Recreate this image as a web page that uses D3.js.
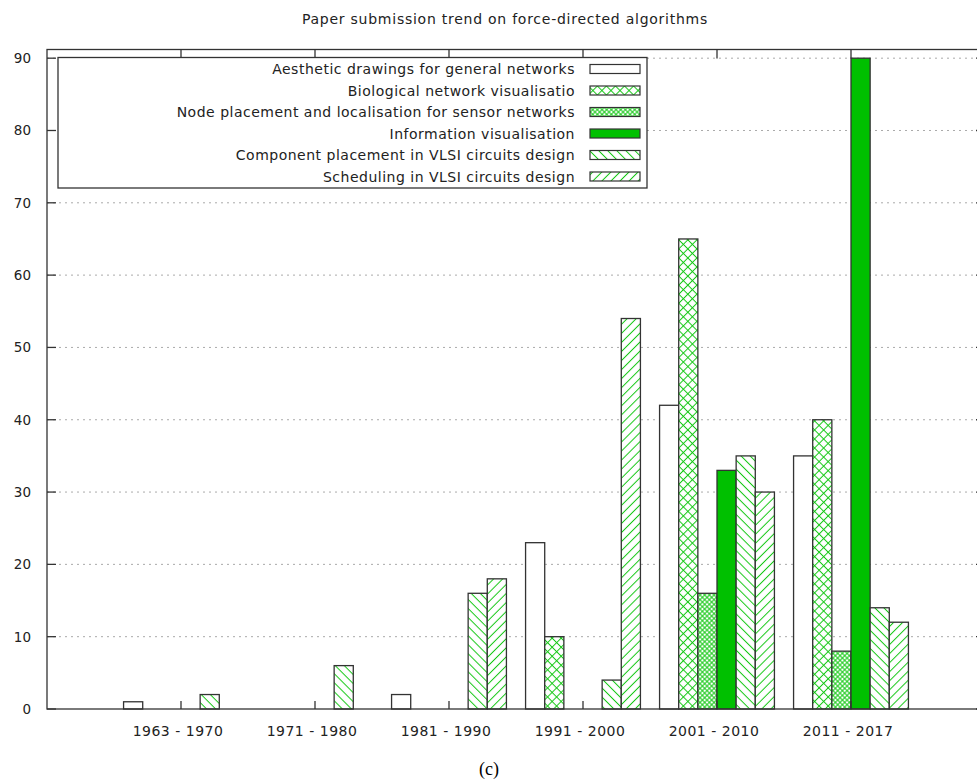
<!DOCTYPE html>
<html>
<head>
<meta charset="utf-8">
<script src="https://cdn.jsdelivr.net/npm/d3@7"></script>
<style>
  body { margin: 0; background: #fff; }
  text { font-family: "DejaVu Sans", sans-serif; fill: #222; }
</style>
</head>
<body>
<div id="draw_area"></div>
<script>
// periods on the x axis
var periods = ["1963 - 1970", "1971 - 1980", "1981 - 1990", "1991 - 2000", "2001 - 2010", "2011 - 2017"];

// one array per series, same order as periods
var aesthetic   = [1, 0, 2, 23, 42, 35];
var biological  = [0, 0, 0, 10, 65, 40];
var node_place  = [0, 0, 0, 0, 16, 8];
var info_vis    = [0, 0, 0, 0, 33, 90];
var component   = [2, 6, 16, 4, 35, 14];
var scheduling  = [0, 0, 18, 54, 30, 12];

var series_names = [
   "Aesthetic drawings for general networks",
   "Biological network visualisatio",
   "Node placement and localisation for sensor networks",
   "Information visualisation",
   "Component placement in VLSI circuits design",
   "Scheduling in VLSI circuits design"
];
var series_values = [aesthetic, biological, node_place, info_vis, component, scheduling];
var series_fill = ["#fff", "url(#pat_cross)", "url(#pat_dense)", "#00c000", "url(#pat_back)", "url(#pat_fwd)"];

var y_ticks = [0, 10, 20, 30, 40, 50, 60, 70, 80, 90];

var width = 977, height = 784;
var plot_left = 47, plot_right = 985, plot_top = 49.5, plot_bottom = 709;

var svg = d3.select("div#draw_area").append("svg")
   .attr("width", width).attr("height", height);

// hatch patterns (gnuplot style): vertical / horizontal strokes, rotated
var defs = svg.append("defs");
function add_pattern(id, size, angle, cross) {
   var p = defs.append("pattern").attr("id", id)
      .attr("patternUnits", "userSpaceOnUse")
      .attr("width", size).attr("height", size)
      .attr("patternTransform", "rotate(" + angle + ")");
   p.append("rect").attr("width", size).attr("height", size).attr("fill", "#fff");
   p.append("line").attr("x1", size / 2).attr("y1", 0).attr("x2", size / 2).attr("y2", size)
      .attr("stroke", "#14c814").attr("stroke-width", 1);
   if (cross) {
      p.append("line").attr("x1", 0).attr("y1", size / 2).attr("x2", size).attr("y2", size / 2)
         .attr("stroke", "#14c814").attr("stroke-width", 1);
   }
}
add_pattern("pat_back", 6.4, -45, false);
add_pattern("pat_fwd", 6.4, 45, false);
add_pattern("pat_cross", 6.4, 45, true);
add_pattern("pat_dense", 3.3, 45, true);

var x = d3.scaleLinear().domain([-1, periods.length]).range([plot_left, plot_right]);
var y = d3.scaleLinear().domain([0, 91.2]).range([plot_bottom, plot_top]);
var bw = 1 / 7;

// dotted grid
svg.append("g").selectAll("line").data(y_ticks.filter(function(d) { return d > 0; }))
   .enter().append("line")
   .attr("x1", plot_left).attr("x2", plot_right)
   .attr("y1", function(d) { return y(d); }).attr("y2", function(d) { return y(d); })
   .attr("stroke", "#aaa").attr("stroke-width", 1).attr("stroke-dasharray", "2,4");

// bars
series_values.forEach(function(vals, j) {
   svg.append("g").selectAll("rect").data(vals).enter().append("rect")
      .attr("x", function(d, i) { return x(i - 3 * bw + j * bw); })
      .attr("width", x(bw) - x(0))
      .attr("y", function(d) { return y(d); })
      .attr("height", function(d) { return y(0) - y(d); })
      .attr("fill", series_fill[j])
      .attr("stroke", function(d) { return d > 0 ? "#333" : "none"; })
      .attr("stroke-width", 1.3);
});

// frame and ticks
var frame = svg.append("g").attr("stroke", "#333").attr("stroke-width", 1.3);
frame.append("rect").attr("x", plot_left).attr("y", plot_top)
   .attr("width", plot_right - plot_left).attr("height", plot_bottom - plot_top).attr("fill", "none");
frame.selectAll("line.yt").data(y_ticks).enter().append("line").attr("class", "yt")
   .attr("x1", plot_left).attr("x2", plot_left + 9)
   .attr("y1", function(d) { return y(d); }).attr("y2", function(d) { return y(d); });
frame.selectAll("line.yr").data(y_ticks).enter().append("line").attr("class", "yr")
   .attr("x1", plot_right - 9).attr("x2", plot_right)
   .attr("y1", function(d) { return y(d); }).attr("y2", function(d) { return y(d); });
frame.selectAll("line.xb").data(periods).enter().append("line").attr("class", "xb")
   .attr("x1", function(d, i) { return x(i); }).attr("x2", function(d, i) { return x(i); })
   .attr("y1", plot_bottom).attr("y2", plot_bottom - 8);
frame.selectAll("line.xt").data(periods).enter().append("line").attr("class", "xt")
   .attr("x1", function(d, i) { return x(i); }).attr("x2", function(d, i) { return x(i); })
   .attr("y1", plot_top).attr("y2", plot_top + 9);

// tick labels
svg.append("g").selectAll("text").data(y_ticks).enter().append("text")
   .attr("x", 31).attr("y", function(d) { return y(d); }).attr("dy", "0.36em")
   .attr("text-anchor", "end").style("font-size", "13.5px")
   .text(function(d) { return d; });
svg.append("g").selectAll("text").data(periods).enter().append("text")
   .attr("x", function(d, i) { return x(i) - 3; }).attr("y", 736)
   .attr("text-anchor", "middle").style("font-size", "14px").style("letter-spacing", "0.5px")
   .text(function(d) { return d; });

// title and caption
svg.append("text").attr("x", 505).attr("y", 24).attr("text-anchor", "middle")
   .style("font-size", "14px").style("letter-spacing", "0.75px")
   .text("Paper submission trend on force-directed algorithms");
svg.append("text").attr("x", 489).attr("y", 775).attr("text-anchor", "middle")
   .style("font-family", "'Liberation Serif', serif").style("font-size", "18px").style("fill", "#000")
   .text("(c)");

// legend box
var lg = svg.append("g");
lg.append("rect").attr("x", 58).attr("y", 57.5).attr("width", 589).attr("height", 130.5)
   .attr("fill", "#fff").attr("stroke", "#333").attr("stroke-width", 1.3);
series_names.forEach(function(name, j) {
   var cy = 69 + j * 21.5;
   lg.append("text").attr("x", 575).attr("y", cy).attr("dy", "0.36em")
      .attr("text-anchor", "end").style("font-size", "14px").style("letter-spacing", "0.5px")
      .text(name);
   lg.append("rect").attr("x", 590).attr("y", cy - 4.5).attr("width", 50).attr("height", 9)
      .attr("fill", series_fill[j]).attr("stroke", "#333").attr("stroke-width", 1.2);
});
</script>
</body>
</html>
